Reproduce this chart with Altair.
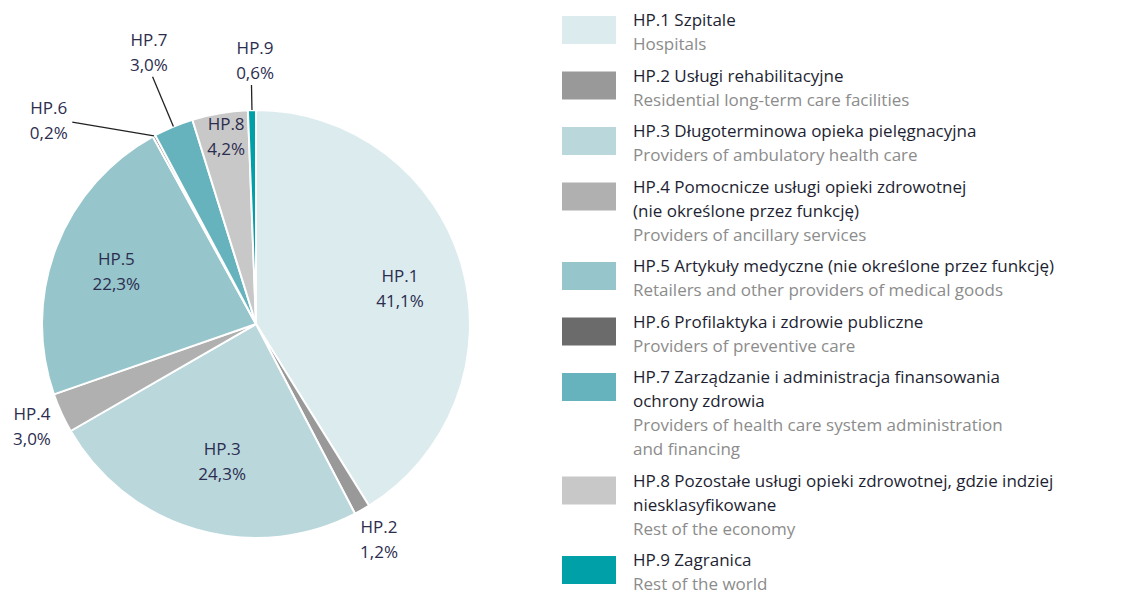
import math
import altair as alt
import pandas as pd

# ---- data ----
keys = ["HP.1", "HP.2", "HP.3", "HP.4", "HP.5", "HP.6", "HP.7", "HP.8", "HP.9"]
shares = [41.1, 1.2, 24.3, 3.0, 22.3, 0.2, 3.0, 4.2, 0.6]
share_labels = ["41,1%", "1,2%", "24,3%", "3,0%", "22,3%", "0,2%", "3,0%", "4,2%", "0,6%"]
colors = ["#dcebee", "#999999", "#bad7dc", "#b0b0b0", "#96c5cb",
          "#6b6b6b", "#66b3bd", "#c8c8c8", "#00a0a8"]
legend_pl = [
    ["HP.1 Szpitale"],
    ["HP.2 Usługi rehabilitacyjne"],
    ["HP.3 Długoterminowa opieka pielęgnacyjna"],
    ["HP.4 Pomocnicze usługi opieki zdrowotnej", "(nie określone przez funkcję)"],
    ["HP.5 Artykuły medyczne (nie określone przez funkcję)"],
    ["HP.6 Profilaktyka i zdrowie publiczne"],
    ["HP.7 Zarządzanie i administracja finansowania", "ochrony zdrowia"],
    ["HP.8 Pozostałe usługi opieki zdrowotnej, gdzie indziej", "niesklasyfikowane"],
    ["HP.9 Zagranica"],
]
legend_en = [
    ["Hospitals"],
    ["Residential long-term care facilities"],
    ["Providers of ambulatory health care"],
    ["Providers of ancillary services"],
    ["Retailers and other providers of medical goods"],
    ["Providers of preventive care"],
    ["Providers of health care system administration", "and financing"],
    ["Rest of the economy"],
    ["Rest of the world"],
]

# ---- layout (chart pixel space; page margin 8px) ----
CX, CY, R = 248, 316, 214
FONT = "Open Sans"
LINE_H = 25
# label placement: (angle in degrees clockwise from 12 o'clock, radius)
label_pos = {
    "HP.1": (76.7, 148), "HP.2": (150.4, 249), "HP.3": (193.7, 143),
    "HP.4": (245.1, 247), "HP.5": (290.4, 149), "HP.6": (314.4, 290),
    "HP.7": (338.4, 291), "HP.8": (350.9, 189), "HP.9": (359.8, 263),
}
# leader lines: key -> (end angle or None for slice mid-angle, end radius)
leaders = {"HP.6": (317.7, 273), "HP.7": (None, 268), "HP.9": (None, 239)}

total = sum(shares)
mids = {}
acc = 0.0
for k, v in zip(keys, shares):
    mids[k] = (acc + v / 2) / total * 360.0
    acc += v


def polar(angle, r):
    a = math.radians(angle)
    return CX + r * math.sin(a), CY - r * math.cos(a)


pie_df = pd.DataFrame({"key": keys, "value": shares, "order": list(range(len(keys)))})

lab_rows = []
for k, s in zip(keys, share_labels):
    ang, rad = label_pos[k]
    x, y = polar(ang, rad)
    # first line placed half a line above the block centre
    lab_rows.append({"key": k, "text": f"{k}\n{s}", "x": x, "y": y - LINE_H / 2})
lab_df = pd.DataFrame(lab_rows)

lead_rows = []
for k, (ang, rad) in leaders.items():
    x1, y1 = polar(mids[k], R)
    x2, y2 = polar(mids[k] if ang is None else ang, rad)
    lead_rows.append({"key": k, "x": x1, "y": y1, "x2": x2, "y2": y2})
lead_df = pd.DataFrame(lead_rows)

# legend rows
LX_SW, SW_W, SW_H = 554, 54, 28
LX_TXT = 625
TOP, STEP, GAP = 13, 24.0, 7.5
text_rows, sw_rows = [], []
line = 0
for i, k in enumerate(keys):
    y0 = TOP + line * STEP + i * GAP
    sw_rows.append({"key": k, "y": y0 - SW_H / 2 + 9, "y2": y0 + SW_H / 2 + 9})
    for t in legend_pl[i]:
        text_rows.append({"kind": "pl", "text": t, "y": TOP + line * STEP + i * GAP})
        line += 1
    for t in legend_en[i]:
        text_rows.append({"kind": "en", "text": t, "y": TOP + line * STEP + i * GAP})
        line += 1
leg_txt_df = pd.DataFrame(text_rows)
sw_df = pd.DataFrame(sw_rows)

color_scale = alt.Scale(domain=keys, range=colors)

pie = alt.Chart(pie_df).mark_arc(outerRadius=R, stroke="white", strokeWidth=2).encode(
    theta=alt.Theta("value:Q", stack=True),
    order=alt.Order("order:Q"),
    color=alt.Color("key:N", scale=color_scale, legend=None),
    x=alt.value(CX),
    y=alt.value(CY),
)

lead = alt.Chart(lead_df).mark_rule(color="#222222", strokeWidth=1.3).encode(
    x=alt.X("x:Q", scale=None), y=alt.Y("y:Q", scale=None),
    x2="x2:Q", y2="y2:Q",
)

labels = alt.Chart(lab_df).mark_text(
    font=FONT, fontSize=17, lineHeight=LINE_H, lineBreak="\n", color="#2b2d4f",
    align="center", baseline="middle",
).encode(
    x=alt.X("x:Q", scale=None), y=alt.Y("y:Q", scale=None), text="text:N",
)

swatches = alt.Chart(sw_df).mark_rect().encode(
    x=alt.value(LX_SW), x2=alt.value(LX_SW + SW_W),
    y=alt.Y("y:Q", scale=None), y2="y2:Q",
    color=alt.Color("key:N", scale=color_scale, legend=None),
)

leg_pl = alt.Chart(leg_txt_df).transform_filter(alt.datum.kind == "pl").mark_text(
    font=FONT, fontSize=17, color="#1e1f33", align="left", baseline="middle",
).encode(x=alt.value(LX_TXT), y=alt.Y("y:Q", scale=None), text="text:N")

leg_en = alt.Chart(leg_txt_df).transform_filter(alt.datum.kind == "en").mark_text(
    font=FONT, fontSize=17, color="#8c8c8c", align="left", baseline="middle",
).encode(x=alt.value(LX_TXT), y=alt.Y("y:Q", scale=None), text="text:N")

chart = alt.layer(pie, lead, labels, swatches, leg_pl, leg_en).properties(
    width=1105, height=589, autosize=alt.AutoSizeParams(type="none"), padding=0,
).configure_view(stroke=None)

chart.save("out.html", embed_options={"renderer": "svg", "actions": False})
